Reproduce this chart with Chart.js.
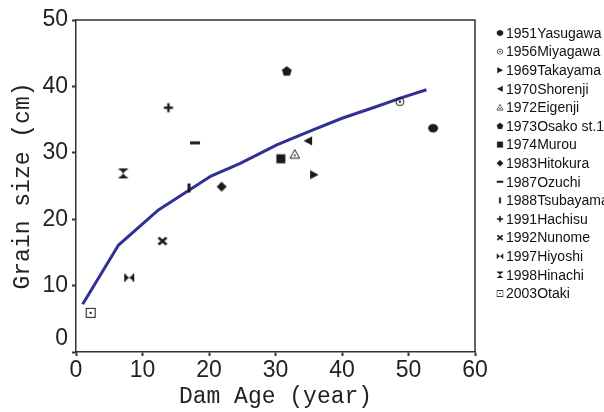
<!DOCTYPE html>
<html>
<head>
<meta charset="UTF-8">
<title>Grain size vs Dam Age</title>
<style>
  body { margin: 0; background: #fff; overflow: hidden; }
  #chart { display: block; }
</style>
</head>
<body>
<canvas id="chart" width="604" height="412"></canvas>
<script src="https://cdn.jsdelivr.net/npm/chart.js@4.4.1/dist/chart.umd.min.js"></script>
<script>
// dam sites (legend order), with age and grain size
const sites = ['1951Yasugawa', '1956Miyagawa', '1969Takayama', '1970Shorenji', '1972Eigenji',
  '1973Osako st.1', '1974Murou', '1983Hitokura', '1987Ozuchi', '1988Tsubayama',
  '1991Hachisu', '1992Nunome', '1997Hiyoshi', '1998Hinachi', '2003Otaki'];
const siteMarks = ['ellipse', 'circleDot', 'triRight', 'triLeft', 'triOpen', 'pentagon', 'square',
  'diamond', 'dash', 'bar', 'plus', 'cross', 'bowtie', 'hourglass', 'squareDot'];
const ageYears = [53.7, 48.7, 35.8, 34.9, 32.9, 31.7, 30.8, 21.9, 17.9, 17.0, 13.9, 13.0, 8.0, 7.1, 2.2];
const grainCm = [33.7, 37.7, 26.7, 31.8, 29.8, 42.3, 29.1, 24.9, 31.5, 24.7, 36.8, 16.7, 11.2, 26.9, 5.9];

// fitted curve (blue line)
const curveAge = [1.0, 6.4, 12.4, 20.3, 24.7, 30.2, 35.0, 40.0, 45.0, 49.0, 52.7];
const curveGrain = [7.2, 16.1, 21.4, 26.5, 28.4, 31.2, 33.2, 35.2, 36.9, 38.3, 39.5];

const ink = '#1a1a1a';

function makeMark(kind) {
  const c = document.createElement('canvas');
  c.width = 12; c.height = 12;
  const g = c.getContext('2d');
  g.fillStyle = ink; g.strokeStyle = ink; g.lineWidth = 1;
  const poly = (pts, fill) => {
    g.beginPath();
    pts.forEach((p, i) => i ? g.lineTo(p[0], p[1]) : g.moveTo(p[0], p[1]));
    g.closePath();
    fill ? g.fill() : g.stroke();
  };
  switch (kind) {
    case 'ellipse':
      g.beginPath(); g.ellipse(6, 6, 5, 4.2, 0, 0, Math.PI * 2); g.fill(); break;
    case 'circleDot':
      g.beginPath(); g.arc(6, 6, 4, 0, Math.PI * 2); g.stroke();
      g.beginPath(); g.arc(6, 6, 1.2, 0, Math.PI * 2); g.fill(); break;
    case 'triRight': poly([[2, 1.5], [10.5, 6], [2, 10.5]], true); break;
    case 'triLeft': poly([[10, 1.5], [1.5, 6], [10, 10.5]], true); break;
    case 'triOpen':
      poly([[6, 1.5], [10.8, 10], [1.2, 10]], false);
      g.fillRect(5.2, 6.5, 1.6, 1.6); break;
    case 'pentagon': {
      const pts = [];
      for (let i = 0; i < 5; i++) {
        const a = -Math.PI / 2 + i * 2 * Math.PI / 5;
        pts.push([6 + 5.2 * Math.cos(a), 6.3 + 5.2 * Math.sin(a)]);
      }
      poly(pts, true); break;
    }
    case 'square': g.fillRect(1.5, 1.5, 9, 9); break;
    case 'diamond': poly([[6, 1], [11, 6], [6, 11], [1, 6]], true); break;
    case 'dash': g.fillRect(1, 4.5, 10, 3); break;
    case 'bar': g.fillRect(4.5, 1.5, 3, 9); break;
    case 'plus': g.fillRect(1.5, 4.8, 9, 2.4); g.fillRect(4.8, 1.5, 2.4, 9); break;
    case 'cross':
      g.lineWidth = 2.4;
      g.beginPath(); g.moveTo(2, 2.5); g.lineTo(10, 9.5); g.moveTo(10, 2.5); g.lineTo(2, 9.5); g.stroke(); break;
    case 'bowtie':
      poly([[1.5, 2.5], [6, 6], [1.5, 9.5]], true);
      poly([[10.5, 2.5], [6, 6], [10.5, 9.5]], true);
      g.fillRect(1, 2, 1.5, 8); g.fillRect(9.5, 2, 1.5, 8); break;
    case 'hourglass':
      poly([[2, 1.5], [10, 1.5], [6, 6]], true);
      poly([[2, 10.5], [10, 10.5], [6, 6]], true);
      g.fillRect(1.5, 1, 9, 1.5); g.fillRect(1.5, 9.5, 9, 1.5); break;
    case 'squareDot':
      g.strokeRect(1.5, 1.5, 9, 9);
      g.fillRect(5, 5, 2, 2); break;
  }
  return c;
}

const marks = siteMarks.map(makeMark);

const datasets = sites.map((name, i) => ({
  label: name,
  data: [{ x: ageYears[i], y: grainCm[i] }],
  pointStyle: marks[i],
  pointRadius: 6,
  pointHoverRadius: 6
}));
datasets.push({
  label: 'curve',
  type: 'line',
  data: curveAge.map((a, i) => ({ x: a, y: curveGrain[i] })),
  borderColor: '#2f3194',
  borderWidth: 3,
  pointRadius: 0,
  tension: 0,
  fill: false
});

// frame: top and right edges of the box
const frame = {
  id: 'frame',
  afterDraw(chart) {
    const { ctx, chartArea: a } = chart;
    ctx.save();
    ctx.strokeStyle = '#333';
    ctx.lineWidth = 1.5;
    ctx.beginPath();
    ctx.moveTo(a.left, a.top); ctx.lineTo(a.right, a.top); ctx.lineTo(a.right, a.bottom);
    ctx.stroke();
    ctx.restore();
  }
};

// legend on the right, cut off at the canvas edge like the original
const sideLegend = {
  id: 'sideLegend',
  afterDraw(chart) {
    const ctx = chart.ctx;
    ctx.save();
    ctx.font = '14px "Liberation Sans", Arial, sans-serif';
    ctx.fillStyle = '#111';
    ctx.textBaseline = 'middle';
    sites.forEach((name, i) => {
      const y = 33 + i * 18.6;
      ctx.drawImage(marks[i], 496, y - 4, 8, 8);
      ctx.fillText(name, 506, y + 1);
    });
    ctx.restore();
  }
};

new Chart(document.getElementById('chart'), {
  type: 'scatter',
  data: { datasets: datasets },
  options: {
    responsive: false,
    animation: false,
    devicePixelRatio: 1,
    layout: { padding: { top: 20, right: 129, left: 0, bottom: 0 } },
    plugins: { legend: { display: false }, tooltip: { enabled: false } },
    scales: {
      x: {
        type: 'linear', min: 0, max: 60,
        afterFit(s) { s.height = 60; },
        ticks: { stepSize: 10, padding: 1, color: '#222',
          font: { family: '"Liberation Sans", Arial, sans-serif', size: 23 } },
        grid: { drawOnChartArea: false, tickLength: 4, tickWidth: 2, color: '#333' },
        border: { color: '#333', width: 1.5 },
        title: { display: true, text: 'Dam Age (year)', color: '#222',
          font: { family: '"Liberation Mono", "DejaVu Sans Mono", monospace', size: 23, lineHeight: 1 },
          padding: { top: 0, bottom: 4 } }
      },
      y: {
        type: 'linear', min: 0, max: 50,
        afterFit(s) { s.width = 76; },
        ticks: { stepSize: 10, padding: 4, color: '#222',
          font: { family: '"Liberation Sans", Arial, sans-serif', size: 23 },
          callback: v => v === 0 ? ['0', ''] : String(v) },
        grid: { drawOnChartArea: false, tickLength: 4, tickWidth: 2, color: '#333' },
        border: { color: '#333', width: 1.5 },
        title: { display: true, text: 'Grain size (cm)', color: '#222',
          font: { family: '"Liberation Mono", "DejaVu Sans Mono", monospace', size: 23, lineHeight: 1 },
          padding: { top: 11, bottom: 0 } }
      }
    }
  },
  plugins: [frame, sideLegend]
});
</script>
</body>
</html>
